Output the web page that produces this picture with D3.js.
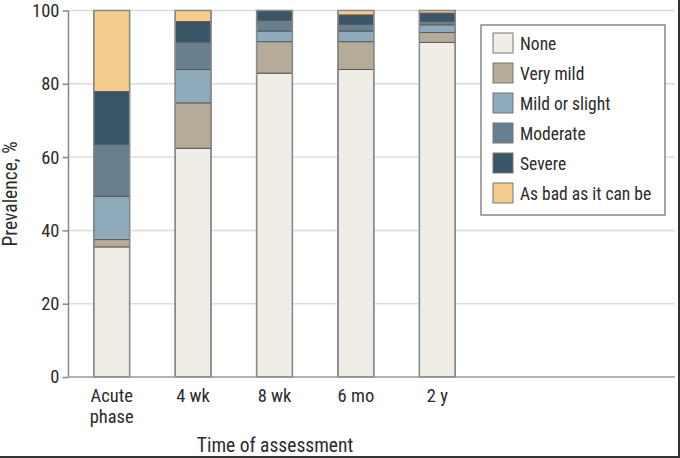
<!DOCTYPE html>
<html><head><meta charset="utf-8">
<script src="https://cdn.jsdelivr.net/npm/d3@7"></script>
<style>
html,body{margin:0;padding:0;background:#fff;}
svg{display:block;}
text{font-family:"Liberation Sans Narrow","Roboto Condensed",Roboto,sans-serif;fill:#2b2b2b;}
</style></head>
<body><svg id="c" width="680" height="458"></svg>
<script>
const categories = ["Acute phase", "4 wk", "8 wk", "6 mo", "2 y"];
const severityLevels = ["None", "Very mild", "Mild or slight", "Moderate", "Severe", "As bad as it can be"];
const noneVals     = [35.5, 62.4, 82.9, 83.9, 91.3];
const veryMildVals = [2.0, 12.4, 8.6, 7.6, 2.7];
const mildVals     = [11.8, 9.1, 2.9, 2.9, 2.1];
const moderateVals = [14.2, 7.5, 2.9, 1.8, 0.9];
const severeVals   = [14.4, 5.6, 2.7, 2.6, 2.3];
const asBadVals    = [22.1, 3.0, 0.0, 1.2, 0.7];
const yTicks = [0, 20, 40, 60, 80, 100];
const colors = ["#efede6", "#b5ab99", "#8faabb", "#677f8f", "#3a5567", "#f5cc8c"];

const series = [noneVals, veryMildVals, mildVals, moderateVals, severeVals, asBadVals];
const rows = categories.map((c, i) => {
  const r = {cat: c};
  severityLevels.forEach((s, k) => r[s] = series[k][i]);
  return r;
});
const stacked = d3.stack().keys(severityLevels)(rows);
const FONT = '"Liberation Sans Narrow","Roboto Condensed",Roboto,sans-serif';

const svg = d3.select("#c");
const x = d3.scaleBand().domain(categories).range([71, 478]).paddingInner(0.56).paddingOuter(0.28);
const y = d3.scaleLinear().domain([0, 100]).range([377, 10.5]);
const color = d3.scaleOrdinal().domain(severityLevels).range(colors);

// gridlines
svg.append("g").selectAll("line").data(yTicks.filter(t => t > 0)).join("line")
  .attr("x1", 69).attr("x2", 675).attr("y1", d => y(d)).attr("y2", d => y(d))
  .attr("stroke", "#dcdcdc").attr("stroke-width", 1.5);

// bars
svg.append("g").selectAll("g").data(stacked).join("g")
  .attr("fill", d => color(d.key))
  .selectAll("rect").data(d => d).join("rect")
  .attr("x", d => x(d.data.cat))
  .attr("width", x.bandwidth())
  .attr("y", d => y(d[1]))
  .attr("height", d => Math.max(0, y(d[0]) - y(d[1])))
  .attr("stroke", "#5a5a5a").attr("stroke-width", 1);

// bar outlines
svg.append("g").selectAll("rect").data(categories).join("rect")
  .attr("x", d => x(d)).attr("width", x.bandwidth())
  .attr("y", y(100)).attr("height", y(0) - y(100))
  .attr("fill", "none").attr("stroke", "#8a8a8a").attr("stroke-width", 1.5);

// y axis
const yAxis = svg.append("g").attr("transform", "translate(68.5,0)")
  .call(d3.axisLeft(y).tickValues(yTicks).tickSize(6).tickPadding(3));
yAxis.select(".domain").attr("stroke", "#888").attr("stroke-width", 1.5).attr("d", `M0,${y(100)}V${y(0)}`);
yAxis.selectAll(".tick line").attr("stroke", "#888").attr("stroke-width", 1.5);
yAxis.selectAll(".tick text").attr("font-size", 18.5).attr("fill", "#2b2b2b")
  .style("font-family", FONT);

// x baseline
svg.append("line").attr("x1", 68).attr("x2", 675).attr("y1", y(0)).attr("y2", y(0))
  .attr("stroke", "#999").attr("stroke-width", 1.5);

// x labels
const xl = svg.append("g").selectAll("text").data(categories).join("text")
  .attr("x", d => x(d) + x.bandwidth() / 2)
  .attr("y", 402)
  .attr("text-anchor", "middle")
  .attr("font-size", 18.5);
xl.each(function(d) {
  const parts = d === "Acute phase" ? ["Acute", "phase"] : [d];
  const t = d3.select(this);
  parts.forEach((p, i) => t.append("tspan").attr("x", x(d) + x.bandwidth() / 2).attr("dy", i === 0 ? 0 : 21).text(p));
});

svg.append("text").attr("x", 275).attr("y", 452).attr("text-anchor", "middle")
  .attr("font-size", 19.5).text("Time of assessment");
svg.append("text").attr("transform", "translate(17,194) rotate(-90)").attr("text-anchor", "middle")
  .attr("font-size", 19.5).text("Prevalence, %");

// legend
const lg = svg.append("g");
lg.append("rect").attr("x", 481).attr("y", 25).attr("width", 184).attr("height", 190)
  .attr("fill", "#fff").attr("stroke", "#888").attr("stroke-width", 1.5);
const items = lg.selectAll("g").data(severityLevels).join("g")
  .attr("transform", (d, i) => `translate(493,${33 + i * 30})`);
items.append("rect").attr("width", 20).attr("height", 20).attr("fill", d => color(d))
  .attr("stroke", "#777").attr("stroke-width", 1);
items.append("text").attr("x", 27).attr("y", 16.5).attr("font-size", 17.5).text(d => d);

// frame border
svg.append("line").attr("x1", 679).attr("x2", 679).attr("y1", 0).attr("y2", 458).attr("stroke", "#333").attr("stroke-width", 2);
svg.append("line").attr("x1", 0).attr("x2", 680).attr("y1", 457).attr("y2", 457).attr("stroke", "#333").attr("stroke-width", 2);
</script></body></html>
